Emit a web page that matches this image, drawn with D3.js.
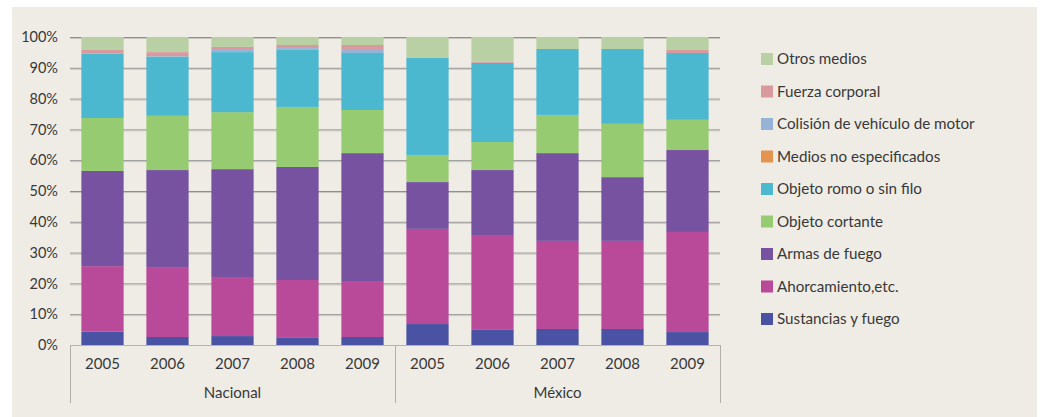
<!DOCTYPE html>
<html><head><meta charset="utf-8">
<script src="https://cdn.jsdelivr.net/npm/d3@7"></script>
<style>
html,body{margin:0;padding:0;background:#fff;}
svg{display:block;font-family:Lato,"Open Sans",sans-serif;}
</style></head>
<body><svg id="c" width="1042" height="417"></svg>
<script>
const groups = ["Nacional","México"];
const years = ["2005","2006","2007","2008","2009"];
const seriesNames = ["Sustancias y fuego","Ahorcamiento,etc.","Armas de fuego","Objeto cortante","Objeto romo o sin filo","Medios no especificados","Colisión de vehículo de motor","Fuerza corporal","Otros medios"];
const seriesColors = ["#4952a3","#b94a9a","#7752a1","#97cb72","#4bb8d0","#e59450","#95b3d7","#d99a9e","#b9d0a4"];
// values in %, order: Nacional 2005..2009, México 2005..2009
const sustancias    = [4.3,2.6,2.9,2.3,2.6, 6.8,4.9,5.2,5.2,4.2];
const ahorcamiento  = [21.3,22.7,18.9,18.8,17.9, 30.9,30.8,28.6,28.6,32.5];
const armas         = [30.9,31.5,35.3,36.7,41.8, 15.2,21.1,28.5,20.7,26.6];
const cortante      = [17.2,17.6,18.5,19.5,14.0, 8.8,9.1,12.4,17.3,9.8];
const romo          = [20.9,19.2,19.5,18.5,18.5, 31.5,25.7,21.4,24.3,21.7];
const noEspecif     = [0,0,0,0,0, 0,0,0,0,0];
const colision      = [0,0.2,0.7,0.6,1.0, 0,0,0,0,0];
const fuerza        = [1.2,1.3,1.0,1.0,1.6, 0,0.4,0,0,1.0];
const otros         = [4.2,4.9,3.2,2.6,2.6, 6.8,8.0,3.9,3.9,4.2];
const yTicks = [0,10,20,30,40,50,60,70,80,90,100];

(function(){
const seriesValues = [sustancias,ahorcamiento,armas,cortante,romo,noEspecif,colision,fuerza,otros];
const cats = [];
groups.forEach(g=>years.forEach(y=>cats.push(g+"|"+y)));
const table = cats.map((c,i)=>{const o={cat:c}; seriesNames.forEach((s,j)=>o[s]=seriesValues[j][i]); return o;});

const svg = d3.select("#c");
svg.append("rect").attr("x",12).attr("y",7).attr("width",1025).attr("height",410).attr("fill","#efece5");

const pL=70, pR=720, pT=37, pB=345;
const x = d3.scaleBand().domain(cats).range([pL,pR]).paddingInner(0.35).paddingOuter(0.175);
const y = d3.scaleLinear().domain([0,100]).range([pB,pT]);

const grid = svg.append("g");
yTicks.forEach(t=>{
  if(t===0) return;
  grid.append("line").attr("x1",pL).attr("x2",pR).attr("y1",y(t)+0.5).attr("y2",y(t)+0.5).attr("stroke","#8f8f8f").attr("stroke-width",1);
  grid.append("line").attr("x1",pL).attr("x2",pR).attr("y1",y(t)+1.5).attr("y2",y(t)+1.5).attr("stroke","#c9c7c1").attr("stroke-width",1);
});

const stack = d3.stack().keys(seriesNames)(table);
svg.append("g").selectAll("g").data(stack).join("g")
  .attr("fill",(d,i)=>seriesColors[i])
  .selectAll("rect").data(d=>d).join("rect")
  .attr("x",d=>x(d.data.cat))
  .attr("width",x.bandwidth())
  .attr("y",d=>y(d[1]))
  .attr("height",d=>Math.max(0,y(d[0])-y(d[1])));

const yAxis = d3.axisLeft(y).tickValues(yTicks).tickFormat(d=>d+"%").tickSize(0).tickPadding(12);
const ya = svg.append("g").attr("transform",`translate(${pL},0)`).call(yAxis);
ya.select(".domain").remove();
ya.selectAll("text").attr("font-size",14.5).attr("fill","#383838").attr("font-family","Lato,sans-serif");

const xAxis = d3.axisBottom(x).tickFormat(d=>d.split("|")[1]).tickSize(0).tickPadding(10);
const xa = svg.append("g").attr("transform",`translate(0,${pB})`).call(xAxis);
xa.select(".domain").remove();
xa.selectAll("text").attr("font-size",15).attr("fill","#383838").attr("font-family","Lato,sans-serif").attr("dy","0.9em");

svg.append("line").attr("x1",pL).attr("x2",pR).attr("y1",pB+0.5).attr("y2",pB+0.5).attr("stroke","#b5b3ad");
const gw = (pR-pL)/groups.length;
[0,1,2].forEach(i=>{
  svg.append("line").attr("x1",pL+i*gw+0.5).attr("x2",pL+i*gw+0.5).attr("y1",pB).attr("y2",403).attr("stroke","#b0aea8");
});
groups.forEach((g,i)=>{
  svg.append("text").attr("x",pL+i*gw+gw/2).attr("y",398).attr("text-anchor","middle")
    .attr("font-size",15).attr("fill","#383838").text(g);
});

const legOrder = seriesNames.map((s,i)=>i).reverse();
legOrder.forEach((si,k)=>{
  const cy = 59 + k*32.5;
  svg.append("rect").attr("x",761).attr("y",cy-6).attr("width",12).attr("height",12).attr("fill",seriesColors[si]);
  svg.append("text").attr("x",777).attr("y",cy).attr("dy","0.35em").attr("font-size",15.2).attr("fill","#383838").text(seriesNames[si]);
});
})();
</script></body></html>
